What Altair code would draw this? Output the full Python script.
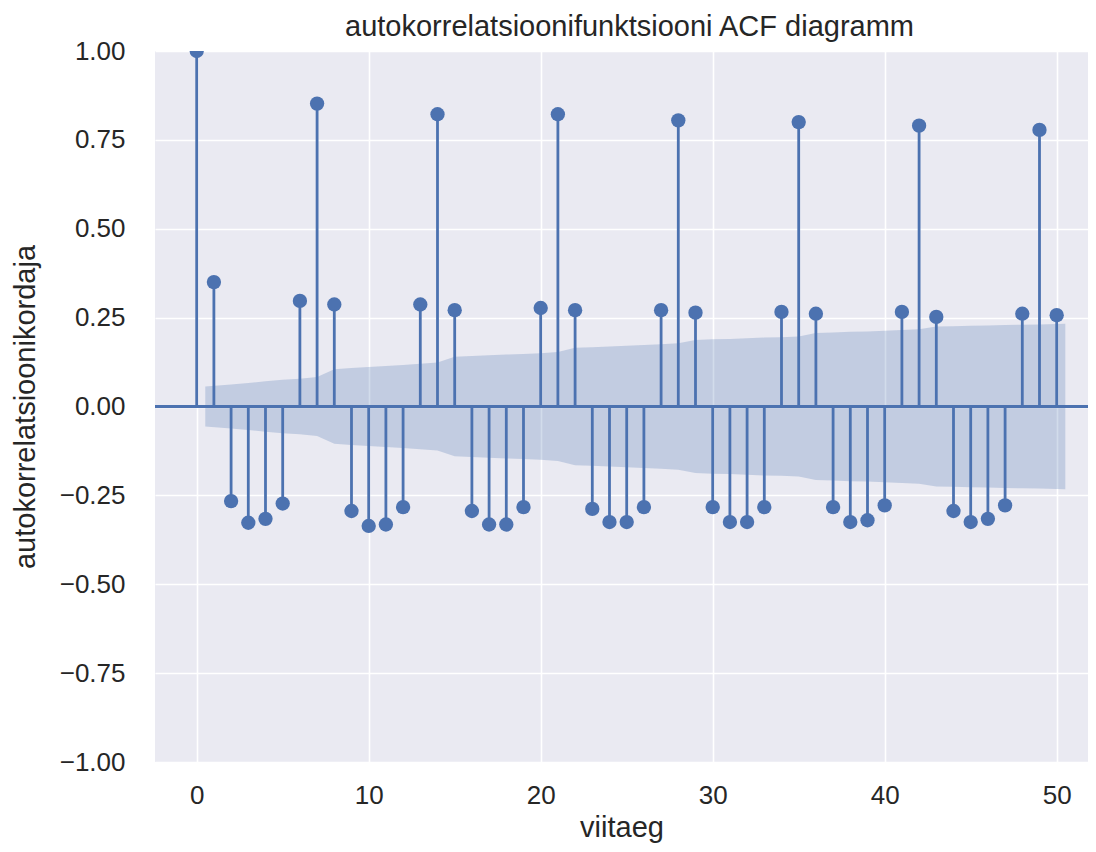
import altair as alt
import pandas as pd

# ---- data ----
lags = list(range(51))
acf = [1.0, 0.35, -0.266, -0.327, -0.316, -0.273, 0.297, 0.852, 0.287, -0.294,
       -0.336, -0.332, -0.283, 0.287, 0.822, 0.271, -0.294, -0.332, -0.332, -0.283,
       0.277, 0.822, 0.271, -0.288, -0.325, -0.325, -0.283, 0.271, 0.805, 0.264,
       -0.283, -0.325, -0.325, -0.283, 0.266, 0.800, 0.261, -0.283, -0.325, -0.320,
       -0.278, 0.266, 0.790, 0.252, -0.294, -0.325, -0.316, -0.278, 0.261, 0.778, 0.257]

band_lags = list(range(1, 51))
band_upper = [0.056, 0.062, 0.066, 0.071, 0.075, 0.078, 0.083, 0.105, 0.108, 0.111,
              0.114, 0.117, 0.120, 0.124, 0.140, 0.142, 0.144, 0.146, 0.148, 0.150,
              0.153, 0.165, 0.167, 0.169, 0.171, 0.173, 0.175, 0.178, 0.187, 0.189,
              0.190, 0.192, 0.194, 0.195, 0.197, 0.207, 0.208, 0.210, 0.211, 0.213,
              0.215, 0.217, 0.225, 0.226, 0.227, 0.228, 0.229, 0.230, 0.231, 0.233]

x_ticks = [0, 10, 20, 30, 40, 50]
y_ticks = [-1.0, -0.75, -0.5, -0.25, 0.0, 0.25, 0.5, 0.75, 1.0]

title_text = "autokorrelatsioonifunktsiooni ACF diagramm"
x_title = "viitaeg"
y_title = "autokorrelatsioonikordaja"

# ---- tables ----
stems = pd.DataFrame({"lag": lags, "acf": acf, "base": [0.0] * len(lags)})
band_x = [float(v) for v in band_lags]
band_x[0] -= 0.5
band_x[-1] += 0.5
band = pd.DataFrame({"lag": band_x,
                     "hi": band_upper,
                     "lo": [-v for v in band_upper]})
zero = pd.DataFrame({"acf": [0.0]})

BLUE = "#4C72B0"
TXT = "#262626"
FONT = "Liberation Sans"

xscale = alt.Scale(domain=[-2.424, 51.82], nice=False, zero=False)
yscale = alt.Scale(domain=[-1.0, 1.0], nice=False, zero=False)

xaxis = alt.Axis(values=x_ticks, title=x_title, grid=True, gridColor="white",
                 gridWidth=1.6, domain=False, ticks=False, tickSize=0,
                 labelFontSize=26, labelFont=FONT, labelColor=TXT,
                 labelPadding=20, titleFontSize=29, titleFont=FONT,
                 titleColor=TXT, titleFontWeight="normal", titlePadding=5)
yaxis = alt.Axis(values=y_ticks, format=".2f", title=y_title, grid=True,
                 gridColor="white", gridWidth=1.6, domain=False, ticks=False,
                 tickSize=0, labelFontSize=26, labelFont=FONT, labelColor=TXT,
                 labelPadding=30, titleFontSize=29, titleFont=FONT,
                 titleColor=TXT, titleFontWeight="normal", titlePadding=19)

band_layer = alt.Chart(band).mark_area(color=BLUE, opacity=0.25).encode(
    x=alt.X("lag:Q", scale=xscale, axis=xaxis),
    y=alt.Y("lo:Q", scale=yscale, axis=yaxis),
    y2="hi:Q",
)

zero_layer = alt.Chart(zero).mark_rule(color=BLUE, strokeWidth=3).encode(
    y=alt.Y("acf:Q", scale=yscale, axis=yaxis),
)

stem_layer = alt.Chart(stems).mark_rule(color=BLUE, strokeWidth=2.8).encode(
    x=alt.X("lag:Q", scale=xscale, axis=xaxis),
    y=alt.Y("base:Q", scale=yscale, axis=yaxis),
    y2="acf:Q",
)

dot_layer = alt.Chart(stems).mark_circle(color=BLUE, size=205, opacity=1,
                                         clip=True).encode(
    x=alt.X("lag:Q", scale=xscale, axis=xaxis),
    y=alt.Y("acf:Q", scale=yscale, axis=yaxis),
)

chart = alt.layer(band_layer, zero_layer, stem_layer, dot_layer).properties(
    width=933,
    height=711,
    title=alt.TitleParams(title_text, fontSize=29, font=FONT, color=TXT,
                          fontWeight="normal", anchor="middle", offset=10,
                          dx=8, dy=14),
    padding={"left": 147, "top": 43, "right": 0, "bottom": 81},
    autosize=alt.AutoSizeParams(type="none"),
).configure_view(fill="#EAEAF2", strokeWidth=0)

chart.save("out.html", embed_options={"renderer": "svg", "actions": False})
